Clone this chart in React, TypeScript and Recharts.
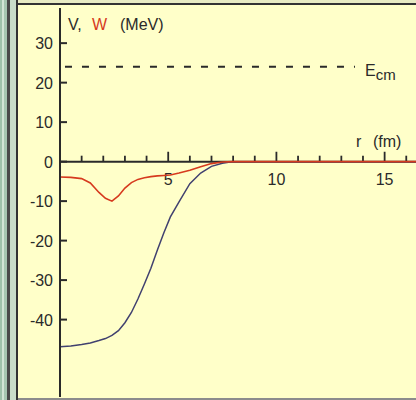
import React from 'react';
import { LineChart, Line, XAxis, YAxis, ReferenceLine } from 'recharts';

const R_FM = [0, 0.5, 1, 1.4, 1.8, 2.1, 2.4, 2.7, 3.0, 3.3, 3.6, 3.9, 4.2, 4.5, 4.8, 5.1, 5.5, 6.0, 6.5, 7.0, 7.5, 8.0, 16.45];
const V_REAL = [-46.9, -46.7, -46.3, -45.9, -45.3, -44.8, -44.0, -42.8, -40.8, -38.2, -34.8, -31.0, -27.0, -22.4, -18.0, -14.0, -10.2, -5.6, -2.9, -1.2, -0.4, 0, 0];
const W_IMAG = [-3.9, -4.0, -4.3, -5.4, -7.8, -9.3, -10.0, -8.7, -6.7, -5.3, -4.5, -4.1, -3.8, -3.6, -3.5, -3.4, -2.9, -2.2, -1.3, -0.5, -0.1, 0, 0];

const E_CM = 24;
const ECM_FROM = 0.23;
const ECM_TO = 13.63;

const X_TICKS = [1, 2, 3, 4, 5, 6, 7, 8, 9, 10, 11, 12, 13, 14, 15, 16];
const X_LABELED = [5, 10, 15];
const Y_TICKS = [-40, -30, -20, -10, 0, 10, 20, 30];

const X_DOMAIN: [number, number] = [0, 16.45];
const Y_DOMAIN: [number, number] = [-59.6, 38.9];

const BG = '#FFFFC9';
const AXIS = '#2a2a2a';
const TEXT = '#2a2a2a';
const BLUE = '#41416f';
const RED = '#d63a1e';
const FONT = '"Liberation Sans", Arial, sans-serif';

const data = R_FM.map((r, i) => ({ r, v: V_REAL[i], w: W_IMAG[i] }));

const YTick = (props: any) => {
    const { x, y, payload } = props;
    return (
        <g>
            <line x1={x} x2={x + 7} y1={y} y2={y} stroke={AXIS} strokeWidth={2} />
            <text x={x - 7} y={y} dy={6} textAnchor="end" fontSize={16} fill={TEXT} fontFamily={FONT}>
                {payload.value}
            </text>
        </g>
    );
};

const xLabel = (value: number) => (props: any) => {
    const vb = props.viewBox;
    return (
        <text x={vb.x} y={vb.y + vb.height + 23.5} textAnchor="middle" fontSize={16} fill={TEXT} fontFamily={FONT}>
            {value}
        </text>
    );
};

const EcmLabel = (props: any) => {
    const vb = props.viewBox;
    return (
        <text x={vb.x + vb.width + 10} y={vb.y + 9} fontSize={16} fill={TEXT} fontFamily={FONT}>
            <tspan>E</tspan>
            <tspan dy={4} fontSize={15}>cm</tspan>
        </text>
    );
};

const App: React.FC = () => {
    return (
        <div style={{ position: 'relative', width: 416, height: 400, background: BG, overflow: 'hidden' }}>
            <style>{'body{margin:0}'}</style>
            <LineChart width={416} height={400} data={data} margin={{ top: 8, right: 0, bottom: 3, left: 0 }}>
                <XAxis type="number" dataKey="r" domain={X_DOMAIN} hide allowDataOverflow />
                <YAxis
                    type="number"
                    domain={Y_DOMAIN}
                    ticks={Y_TICKS}
                    interval={0}
                    width={60}
                    tickSize={0}
                    tickMargin={0}
                    tickLine={false}
                    axisLine={{ stroke: AXIS, strokeWidth: 2 }}
                    tick={YTick}
                    allowDataOverflow
                />
                <ReferenceLine y={0} stroke={AXIS} strokeWidth={2} />
                {X_TICKS.map((t) => {
                    const major = X_LABELED.includes(t);
                    return (
                        <ReferenceLine
                            key={t}
                            segment={[{ x: t, y: 0 }, { x: t, y: major ? 2.5 : 1.5 }]}
                            stroke={AXIS}
                            strokeWidth={1.8}
                            label={major ? xLabel(t) : undefined}
                        />
                    );
                })}
                <ReferenceLine
                    segment={[{ x: ECM_FROM, y: E_CM }, { x: ECM_TO, y: E_CM }]}
                    stroke={AXIS}
                    strokeWidth={2}
                    strokeDasharray="7 10"
                    label={EcmLabel}
                />
                <Line type="linear" dataKey="v" stroke={BLUE} strokeWidth={1.5} dot={false} isAnimationActive={false} />
                <Line type="linear" dataKey="w" stroke={RED} strokeWidth={1.6} dot={false} isAnimationActive={false} />
            </LineChart>
            <svg width={416} height={400} style={{ position: 'absolute', left: 0, top: 0, pointerEvents: 'none' }}>
                {/* window frame */}
                <rect x={0} y={0} width={416} height={3} fill="#e8ebc3" />
                <rect x={16} y={3} width={400} height={2} fill="#333" />
                <rect x={0} y={398} width={416} height={2} fill="#8c8c8c" />
                <rect x={0} y={0} width={2} height={400} fill="#9fc2ab" />
                <rect x={2} y={0} width={2} height={400} fill="#d2e5d6" />
                <rect x={4} y={0} width={3} height={400} fill="#a6c6b1" />
                <rect x={7} y={0} width={3} height={400} fill="#4a4a4a" />
                <rect x={10} y={0} width={6} height={400} fill="#c9ddc9" />
                <rect x={16} y={0} width={2} height={400} fill="#333" />
                {/* axis titles */}
                <text y={30} fontSize={16} fontFamily={FONT} fill={TEXT}>
                    <tspan x={68}>V,</tspan>
                    <tspan x={92} fill={RED}>W</tspan>
                    <tspan x={120}>(MeV)</tspan>
                </text>
                <text y={147} fontSize={16} fontFamily={FONT} fill={TEXT}>
                    <tspan x={356}>r</tspan>
                    <tspan x={373}>(fm)</tspan>
                </text>
            </svg>
        </div>
    );
};

export default App;
